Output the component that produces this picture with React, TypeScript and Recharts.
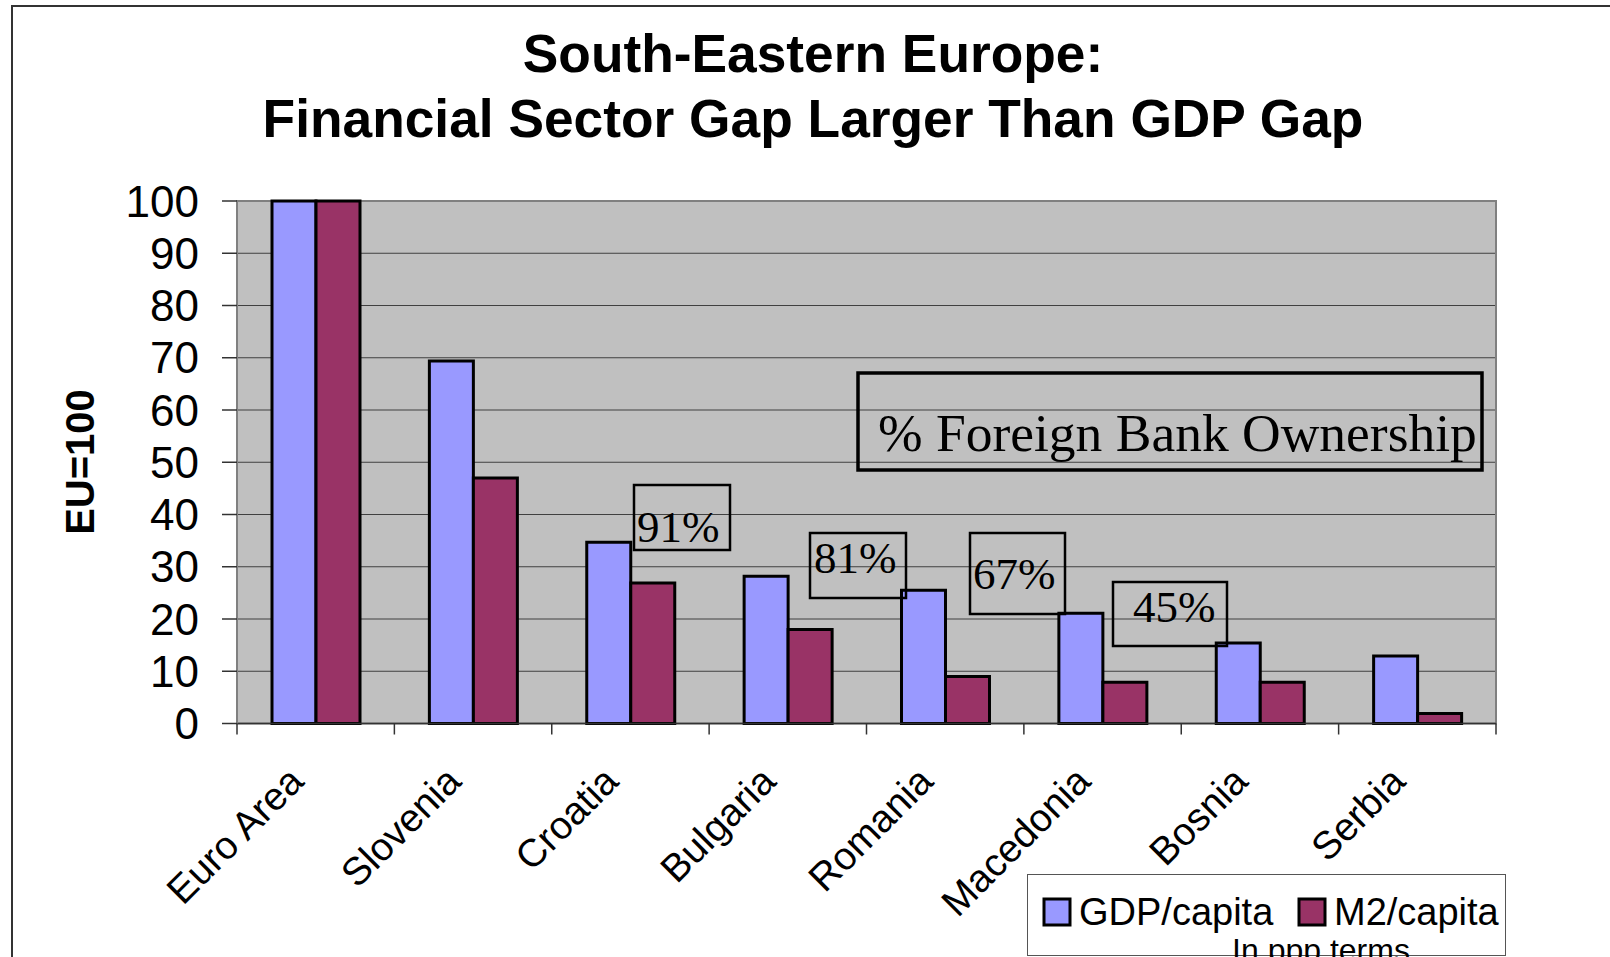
import React from "react";
import {
  Bar,
  BarChart,
  CartesianGrid,
  Legend,
  ReferenceArea,
  XAxis,
  YAxis,
} from "recharts";

const categories = ["Euro Area", "Slovenia", "Croatia", "Bulgaria", "Romania", "Macedonia", "Bosnia", "Serbia"];
const gdpPerCapita = [100, 69.4, 34.7, 28.2, 25.5, 21.1, 15.4, 12.9];
const m2PerCapita = [100, 47, 26.9, 18, 9, 7.9, 7.9, 1.9];
const yTicks = [0, 10, 20, 30, 40, 50, 60, 70, 80, 90, 100];
const ownershipLabels = ["91%", "81%", "67%", "45%"];

const titleLines = ["South-Eastern Europe:", "Financial Sector Gap Larger Than GDP Gap"];

const W = 1610;
const H = 957;
const PLOT_LEFT = 237;
const PLOT_RIGHT = 1496;
const BAND = (PLOT_RIGHT - PLOT_LEFT) / categories.length;

const SANS = "'Liberation Sans', Arial, sans-serif";
const SERIF = "'Liberation Serif', 'Times New Roman', serif";

// boxes for the ownership labels, in page pixels
const ownershipBoxes = [
  { x: 634, y: 485, w: 96, h: 65, tx: 637, ty: 542 },
  { x: 810, y: 533, w: 96, h: 65, tx: 814, ty: 573 },
  { x: 970, y: 533, w: 95, h: 81, tx: 973, ty: 589 },
  { x: 1113, y: 582, w: 114, h: 64, tx: 1133, ty: 622 },
];

const data = categories.map((name, i) => ({
  name,
  gdp: gdpPerCapita[i],
  m2: m2PerCapita[i],
}));

function CategoryTick(props: any) {
  const { x, y, payload, index } = props;
  const half = BAND / 2;
  const lx = x - 10;
  const ly = y + 60;
  return (
    <g>
      <line x1={x - half} x2={x - half} y1={y} y2={y + 11} stroke="#333" strokeWidth={1.5} />
      {index === categories.length - 1 && (
        <line x1={x + half} x2={x + half} y1={y} y2={y + 11} stroke="#333" strokeWidth={1.5} />
      )}
      <text
        x={lx}
        y={ly}
        transform={`rotate(-45, ${lx}, ${ly})`}
        textAnchor="end"
        fontFamily={SANS}
        fontSize={39}
        fill="#000"
      >
        {payload.value}
      </text>
    </g>
  );
}

function LegendBox(props: any) {
  const items = props.payload || [];
  const pos = [17, 272];
  return (
    <svg width={479} height={90} style={{ overflow: "visible", display: "block" }}>
      <rect x={0.5} y={0.5} width={478} height={81} fill="#fff" stroke="#555" strokeWidth={1} />
      {items.map((item: any, i: number) => (
        <g key={item.value}>
          <rect x={pos[i]} y={25} width={26} height={26} fill={item.color} stroke="#000" strokeWidth={3} />
          <text x={pos[i] + 35} y={51} fontFamily={SANS} fontSize={38} fill="#000">
            {item.value}
          </text>
        </g>
      ))}
      <text x={294} y={87} textAnchor="middle" fontFamily={SANS} fontSize={32} fill="#000">
        In ppp terms
      </text>
    </svg>
  );
}

export default function App() {
  return (
    <div
      style={{
        position: "absolute",
        left: 0,
        top: 0,
        width: W,
        height: H,
        background: "#fff",
        overflow: "hidden",
      }}
    >
      <div
        style={{
          position: "absolute",
          left: 11,
          top: 5,
          width: 2000,
          height: 2000,
          borderLeft: "2px solid #333",
          borderTop: "2px solid #333",
        }}
      />
      <BarChart
        width={W}
        height={H}
        data={data}
        margin={{ top: 201, right: W - PLOT_RIGHT, bottom: 33.5, left: PLOT_LEFT - 120 }}
        barGap={0}
        barSize={44}
        style={{ position: "absolute", left: 0, top: 0 }}
      >
        <CartesianGrid vertical={false} fill="#c0c0c0" stroke="#404040" strokeWidth={1.2} />
        <ReferenceArea y1={0} y2={100} fill="none" stroke="#808080" strokeWidth={2} />
        <XAxis
          dataKey="name"
          height={200}
          axisLine={{ stroke: "#333", strokeWidth: 1.5 }}
          tickLine={false}
          tickSize={0}
          tickMargin={0}
          interval={0}
          tick={<CategoryTick />}
        />
        <YAxis
          width={120}
          domain={[0, 100]}
          ticks={yTicks}
          interval={0}
          axisLine={{ stroke: "#808080", strokeWidth: 2 }}
          tickLine={{ stroke: "#333", strokeWidth: 1.5 }}
          tickSize={15}
          tickMargin={23}
          tick={{ fill: "#000", fontSize: 44, fontFamily: SANS }}
        />
        <Legend
          layout="horizontal"
          verticalAlign="middle"
          align="center"
          content={<LegendBox />}
          wrapperStyle={{ left: 1027, top: 874, width: 479, height: 82 }}
        />
        <Bar dataKey="gdp" name="GDP/capita" fill="#9999ff" stroke="#000" strokeWidth={3} isAnimationActive={false} />
        <Bar dataKey="m2" name="M2/capita" fill="#993366" stroke="#000" strokeWidth={3} isAnimationActive={false} />
      </BarChart>
      <svg
        width={W}
        height={H}
        style={{ position: "absolute", left: 0, top: 0, pointerEvents: "none" }}
      >
        {titleLines.map((line, i) => (
          <text
            key={line}
            x={813}
            y={72 + i * 65}
            textAnchor="middle"
            fontFamily={SANS}
            fontWeight="bold"
            fontSize={53.3}
            fill="#000"
          >
            {line}
          </text>
        ))}
        <text
          x={80}
          y={462}
          transform="rotate(-90, 80, 462)"
          textAnchor="middle"
          dominantBaseline="central"
          fontFamily={SANS}
          fontWeight="bold"
          fontSize={40}
          fill="#000"
        >
          EU=100
        </text>
        <rect x={858} y={373} width={624} height={97} fill="none" stroke="#000" strokeWidth={3.5} />
        <text x={878} y={451} fontFamily={SERIF} fontSize={53.5} fill="#000">
          % Foreign Bank Ownership
        </text>
        {ownershipLabels.map((label, i) => {
          const b = ownershipBoxes[i];
          return (
            <g key={label}>
              <rect x={b.x} y={b.y} width={b.w} height={b.h} fill="none" stroke="#000" strokeWidth={2.5} />
              <text x={b.tx} y={b.ty} fontFamily={SERIF} fontSize={45} fill="#000">
                {label}
              </text>
            </g>
          );
        })}
      </svg>
    </div>
  );
}
